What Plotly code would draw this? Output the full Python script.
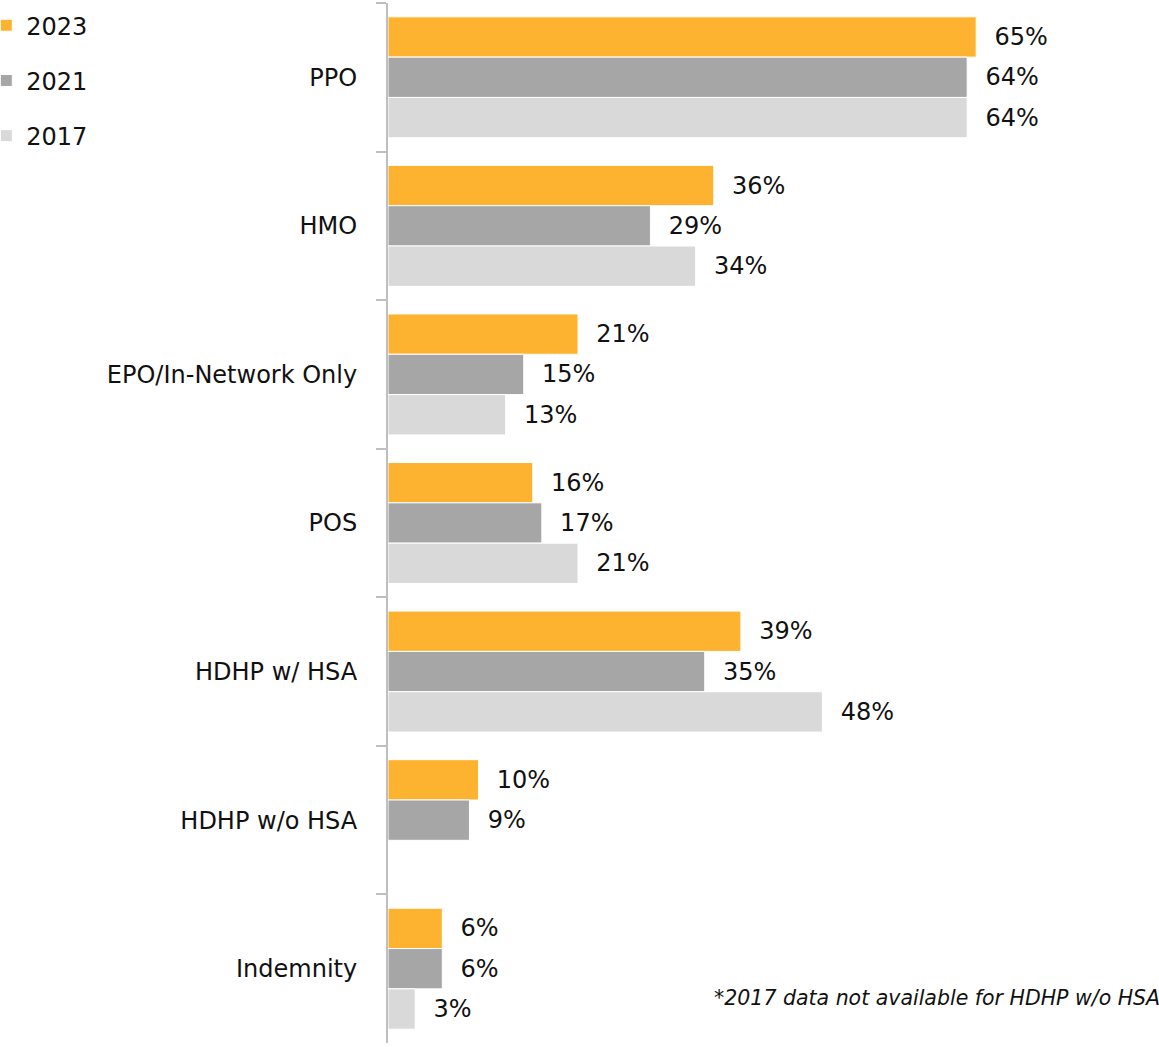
import plotly.graph_objects as go

categories = ["PPO", "HMO", "EPO/In-Network Only", "POS", "HDHP w/ HSA", "HDHP w/o HSA", "Indemnity"]
y2023 = [65, 36, 21, 16, 39, 10, 6]
y2021 = [64, 29, 15, 17, 35, 9, 6]
y2017 = [64, 34, 13, 21, 48, None, 3]

series = [
    ("2023", y2023, "#FDB32F"),
    ("2021", y2021, "#A6A6A6"),
    ("2017", y2017, "#D9D9D9"),
]

FONT = "DejaVu Sans, sans-serif"
PAD = "\u00a0\u00a0"

fig = go.Figure()
for name, vals, color in series:
    fig.add_trace(go.Bar(
        y=categories,
        x=vals,
        name=name,
        orientation="h",
        marker=dict(color=color, line=dict(color="white", width=1)),
        text=[PAD + f"{v}%" if v is not None else "" for v in vals],
        textposition="outside",
        textfont=dict(size=24, color="#111111", family=FONT),
        cliponaxis=False,
        legendgroup=name,
    ))

fig.update_layout(
    width=1159,
    height=1047,
    barmode="group",
    bargap=0.186,
    bargroupgap=0,
    plot_bgcolor="white",
    paper_bgcolor="white",
    margin=dict(l=388, r=0, t=3, b=4, autoexpand=False),
    font=dict(family=FONT, size=24, color="#111111"),
    showlegend=True,
    legend=dict(
        x=-0.521, xref="paper", xanchor="left",
        y=0.997, yref="container", yanchor="top",
        traceorder="grouped",
        tracegroupgap=21,
        font=dict(size=24, color="#111111", family=FONT),
        bgcolor="rgba(0,0,0,0)",
    ),
)

fig.update_xaxes(range=[0, 85.2], visible=False, showgrid=False, zeroline=False)
fig.update_yaxes(
    autorange="reversed",
    showline=True, linecolor="#BFBFBF", linewidth=2,
    ticks="outside", tickson="boundaries", ticklen=10, tickcolor="#BFBFBF", tickwidth=2,
    ticklabelstandoff=24,
    showgrid=False, zeroline=False,
    tickfont=dict(size=24, color="#111111", family=FONT),
)

fig.add_annotation(
    text="<i>*2017 data not available for HDHP w/o HSA</i>",
    xref="paper", yref="paper", x=1.0, y=0.043, xshift=3,
    xanchor="right", yanchor="middle", showarrow=False,
    font=dict(size=20.5, color="#111111", family=FONT),
)

fig.write_html(
    "out.html",
    config={"displayModeBar": False},
    post_script="document.body.style.margin='0';",
)
